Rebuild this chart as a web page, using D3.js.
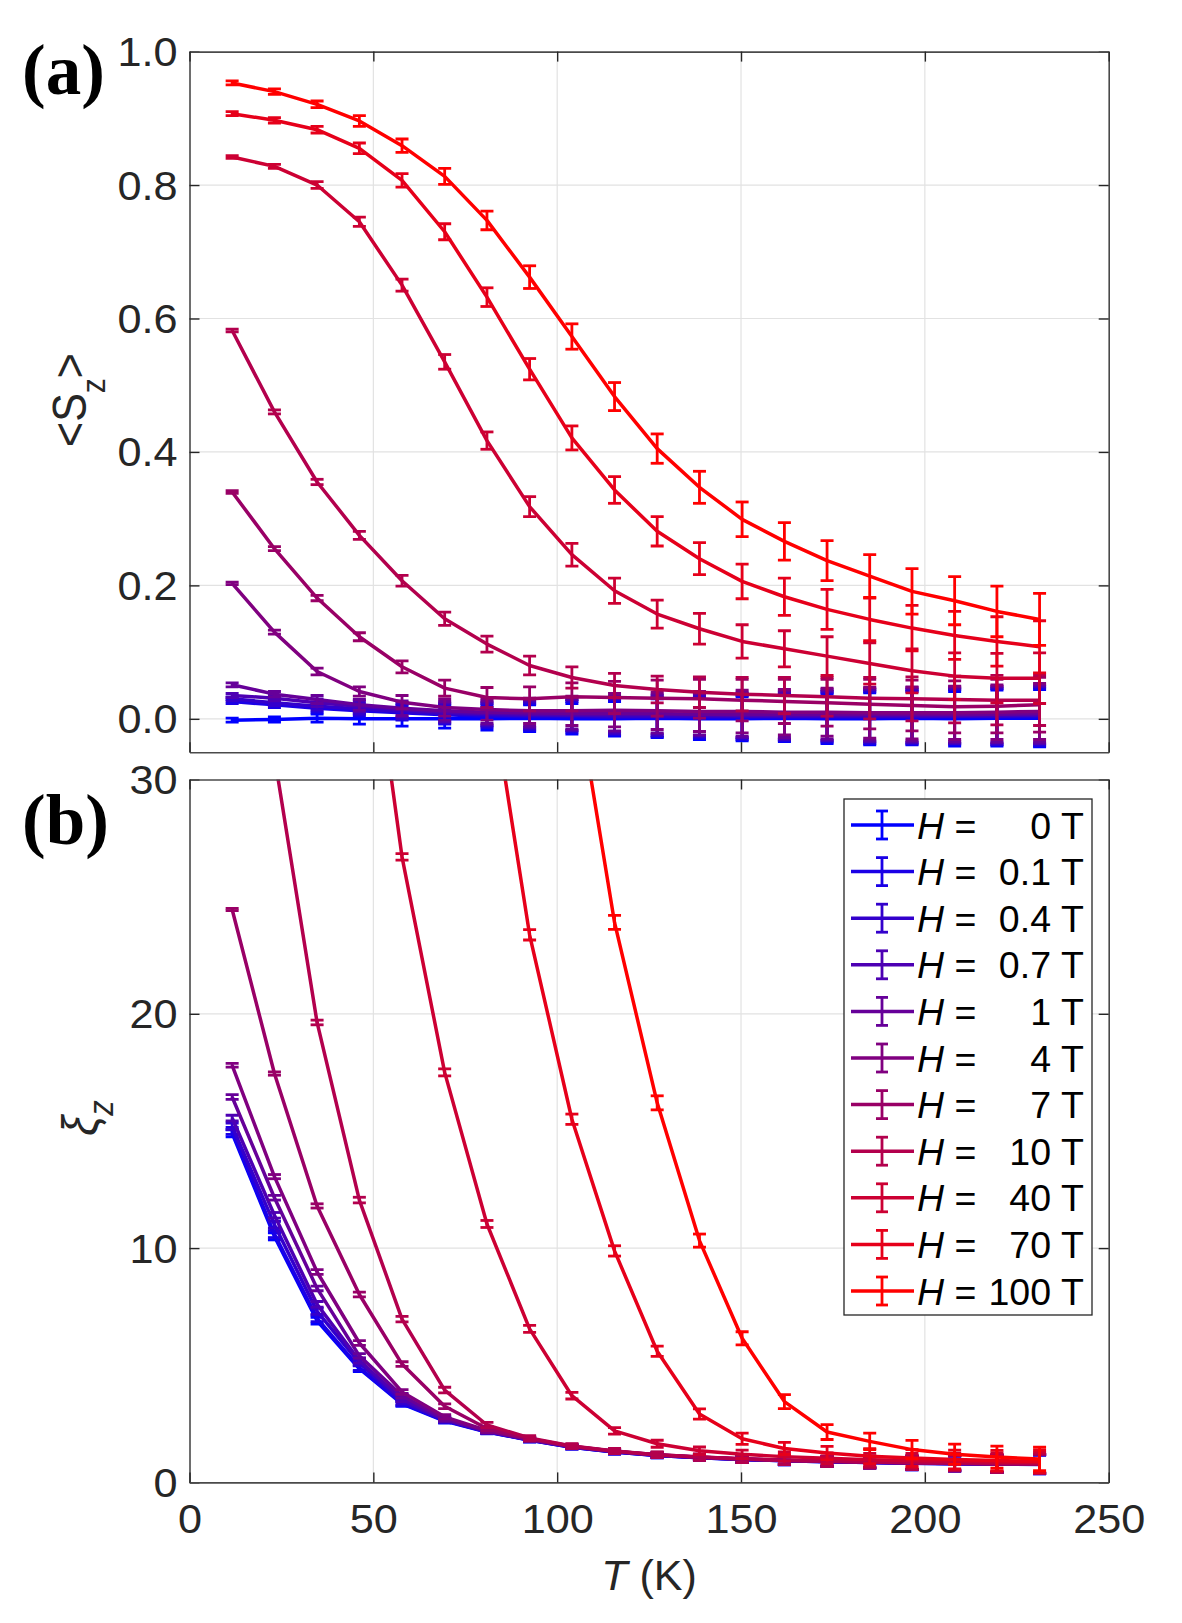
<!DOCTYPE html>
<html><head><meta charset="utf-8">
<script src="https://cdn.jsdelivr.net/npm/d3@7"></script>
<style>body{margin:0;background:#fff} svg{display:block}</style>
</head><body><svg id="c" width="1182" height="1623"></svg>
<script>
// ---------- DATA ----------
const fields = ["0", "0.1", "0.4", "0.7", "1", "4", "7", "10", "40", "70", "100"];
const temps = [11.6, 23.1, 34.7, 46.2, 57.8, 69.4, 80.9, 92.5, 104.0, 115.6, 127.2, 138.7, 150.3, 161.8, 173.4, 185.0, 196.5, 208.1, 219.6, 231.2];

// <S_z> per field (rows follow `fields`)
const szValues = [
  [-0.002, -0.001, 0.001, 0.000, 0.000, 0.000, 0.000, 0.001, 0.000, 0.000, 0.001, 0.000, 0.000, 0.001, 0.000, 0.000, 0.001, 0.000, 0.001, 0.001],
  [0.026, 0.021, 0.016, 0.012, 0.009, 0.006, 0.004, 0.003, 0.003, 0.002, 0.002, 0.002, 0.002, 0.002, 0.002, 0.002, 0.002, 0.003, 0.003, 0.003],
  [0.030, 0.024, 0.019, 0.015, 0.011, 0.008, 0.006, 0.005, 0.005, 0.004, 0.004, 0.004, 0.004, 0.004, 0.004, 0.004, 0.004, 0.004, 0.004, 0.005],
  [0.035, 0.031, 0.024, 0.019, 0.014, 0.010, 0.008, 0.007, 0.006, 0.006, 0.006, 0.006, 0.005, 0.005, 0.005, 0.005, 0.005, 0.005, 0.006, 0.006],
  [0.051, 0.037, 0.029, 0.021, 0.016, 0.012, 0.010, 0.009, 0.008, 0.008, 0.008, 0.007, 0.007, 0.007, 0.007, 0.007, 0.007, 0.007, 0.007, 0.008],
  [0.203, 0.130, 0.071, 0.041, 0.025, 0.017, 0.014, 0.012, 0.012, 0.013, 0.012, 0.011, 0.011, 0.010, 0.010, 0.009, 0.009, 0.009, 0.010, 0.011],
  [0.340, 0.255, 0.181, 0.123, 0.078, 0.046, 0.032, 0.030, 0.033, 0.032, 0.031, 0.030, 0.028, 0.026, 0.024, 0.022, 0.020, 0.018, 0.019, 0.021],
  [0.582, 0.460, 0.355, 0.275, 0.207, 0.150, 0.112, 0.080, 0.062, 0.050, 0.044, 0.040, 0.037, 0.035, 0.033, 0.031, 0.030, 0.029, 0.028, 0.028],
  [0.842, 0.828, 0.800, 0.745, 0.650, 0.535, 0.417, 0.318, 0.246, 0.192, 0.157, 0.135, 0.116, 0.105, 0.094, 0.083, 0.072, 0.064, 0.061, 0.061],
  [0.907, 0.897, 0.883, 0.855, 0.807, 0.730, 0.632, 0.524, 0.421, 0.343, 0.281, 0.240, 0.206, 0.183, 0.164, 0.149, 0.136, 0.125, 0.116, 0.108],
  [0.953, 0.940, 0.921, 0.896, 0.859, 0.813, 0.747, 0.662, 0.573, 0.483, 0.405, 0.347, 0.299, 0.266, 0.237, 0.214, 0.191, 0.177, 0.161, 0.149]
];
const szErrors = [
  [0.003, 0.004, 0.006, 0.008, 0.011, 0.014, 0.017, 0.020, 0.023, 0.026, 0.029, 0.031, 0.033, 0.035, 0.037, 0.039, 0.040, 0.041, 0.042, 0.043],
  [0.003, 0.004, 0.006, 0.008, 0.011, 0.014, 0.017, 0.020, 0.023, 0.026, 0.029, 0.031, 0.033, 0.035, 0.037, 0.039, 0.040, 0.041, 0.042, 0.043],
  [0.003, 0.004, 0.006, 0.008, 0.011, 0.014, 0.017, 0.020, 0.023, 0.026, 0.029, 0.031, 0.033, 0.035, 0.037, 0.039, 0.040, 0.041, 0.042, 0.043],
  [0.003, 0.004, 0.006, 0.008, 0.011, 0.014, 0.017, 0.020, 0.023, 0.026, 0.029, 0.031, 0.033, 0.035, 0.037, 0.039, 0.040, 0.041, 0.042, 0.043],
  [0.003, 0.004, 0.006, 0.008, 0.011, 0.014, 0.017, 0.020, 0.023, 0.026, 0.029, 0.031, 0.033, 0.035, 0.037, 0.039, 0.040, 0.041, 0.042, 0.043],
  [0.002, 0.003, 0.005, 0.007, 0.010, 0.013, 0.016, 0.019, 0.022, 0.025, 0.028, 0.030, 0.032, 0.034, 0.036, 0.038, 0.039, 0.040, 0.041, 0.042],
  [0.002, 0.003, 0.004, 0.006, 0.009, 0.012, 0.015, 0.018, 0.021, 0.024, 0.027, 0.029, 0.031, 0.033, 0.035, 0.037, 0.038, 0.039, 0.040, 0.041],
  [0.002, 0.003, 0.004, 0.006, 0.008, 0.010, 0.012, 0.014, 0.016, 0.018, 0.020, 0.023, 0.025, 0.027, 0.029, 0.031, 0.033, 0.035, 0.037, 0.038],
  [0.002, 0.003, 0.005, 0.007, 0.009, 0.011, 0.013, 0.015, 0.017, 0.019, 0.021, 0.023, 0.025, 0.027, 0.029, 0.031, 0.033, 0.035, 0.037, 0.038],
  [0.003, 0.004, 0.005, 0.008, 0.010, 0.012, 0.014, 0.016, 0.018, 0.020, 0.022, 0.024, 0.026, 0.028, 0.030, 0.032, 0.034, 0.036, 0.037, 0.039],
  [0.003, 0.004, 0.005, 0.008, 0.010, 0.012, 0.014, 0.017, 0.019, 0.021, 0.022, 0.024, 0.026, 0.028, 0.030, 0.032, 0.034, 0.036, 0.038, 0.039]
];

// xi_z per field (rows follow `fields`)
const xiValues = [
  [14.9, 10.5, 6.9, 4.85, 3.35, 2.62, 2.15, 1.80, 1.50, 1.30, 1.15, 1.05, 0.98, 0.92, 0.88, 0.85, 0.82, 0.80, 0.78, 0.76],
  [15.0, 10.6, 7.0, 4.90, 3.38, 2.64, 2.16, 1.81, 1.50, 1.30, 1.15, 1.05, 0.98, 0.92, 0.88, 0.85, 0.82, 0.80, 0.78, 0.77],
  [15.2, 11.0, 7.3, 5.10, 3.45, 2.66, 2.17, 1.82, 1.51, 1.31, 1.16, 1.06, 0.99, 0.93, 0.89, 0.86, 0.83, 0.81, 0.79, 0.78],
  [15.55, 11.4, 7.6, 5.20, 3.55, 2.68, 2.18, 1.82, 1.52, 1.32, 1.16, 1.06, 0.99, 0.93, 0.89, 0.86, 0.83, 0.81, 0.79, 0.78],
  [16.45, 12.15, 8.28, 5.40, 3.70, 2.72, 2.20, 1.83, 1.52, 1.32, 1.17, 1.07, 1.00, 0.94, 0.90, 0.86, 0.84, 0.82, 0.80, 0.79],
  [17.8, 13.05, 8.98, 5.95, 3.86, 2.80, 2.22, 1.84, 1.53, 1.33, 1.17, 1.07, 1.00, 0.94, 0.90, 0.87, 0.84, 0.82, 0.80, 0.79],
  [24.45, 17.45, 11.8, 8.02, 5.05, 3.25, 2.30, 1.86, 1.54, 1.33, 1.18, 1.08, 1.00, 0.95, 0.90, 0.87, 0.84, 0.82, 0.80, 0.79],
  [42.0, 31.0, 19.63, 12.05, 6.97, 3.94, 2.45, 1.90, 1.55, 1.34, 1.18, 1.08, 1.01, 0.95, 0.91, 0.87, 0.85, 0.83, 0.81, 0.80],
  [70.0, 55.0, 48.0, 40.0, 26.7, 17.5, 11.03, 6.55, 3.70, 2.20, 1.65, 1.35, 1.20, 1.10, 1.03, 0.97, 0.93, 0.90, 0.87, 0.85],
  [80.0, 70.0, 60.0, 55.0, 48.0, 42.0, 35.0, 23.37, 15.5, 9.88, 5.60, 2.92, 1.86, 1.45, 1.25, 1.12, 1.04, 0.98, 0.93, 0.90],
  [90.0, 85.0, 80.0, 72.0, 65.0, 57.0, 50.0, 45.0, 35.0, 23.9, 16.2, 10.32, 6.15, 3.45, 2.15, 1.75, 1.40, 1.20, 1.08, 1.00]
];
const xiErrors = [
  [0.15, 0.15, 0.14, 0.12, 0.10, 0.09, 0.08, 0.08, 0.08, 0.09, 0.10, 0.12, 0.14, 0.17, 0.20, 0.24, 0.28, 0.32, 0.36, 0.40],
  [0.15, 0.15, 0.14, 0.12, 0.10, 0.09, 0.08, 0.08, 0.08, 0.09, 0.10, 0.12, 0.14, 0.17, 0.20, 0.24, 0.28, 0.32, 0.36, 0.40],
  [0.14, 0.14, 0.13, 0.12, 0.10, 0.09, 0.08, 0.08, 0.08, 0.09, 0.10, 0.12, 0.14, 0.17, 0.20, 0.24, 0.28, 0.32, 0.36, 0.40],
  [0.12, 0.12, 0.12, 0.11, 0.10, 0.09, 0.08, 0.08, 0.08, 0.09, 0.10, 0.12, 0.14, 0.17, 0.20, 0.24, 0.28, 0.32, 0.36, 0.40],
  [0.10, 0.10, 0.10, 0.10, 0.10, 0.09, 0.08, 0.08, 0.08, 0.09, 0.10, 0.12, 0.14, 0.17, 0.20, 0.24, 0.28, 0.32, 0.36, 0.40],
  [0.08, 0.09, 0.10, 0.10, 0.10, 0.09, 0.08, 0.08, 0.08, 0.09, 0.10, 0.12, 0.14, 0.17, 0.20, 0.24, 0.28, 0.32, 0.36, 0.40],
  [0.05, 0.07, 0.09, 0.10, 0.10, 0.10, 0.09, 0.09, 0.09, 0.10, 0.11, 0.13, 0.15, 0.18, 0.21, 0.25, 0.29, 0.33, 0.37, 0.41],
  [0.10, 0.10, 0.10, 0.12, 0.12, 0.12, 0.11, 0.10, 0.10, 0.11, 0.12, 0.14, 0.16, 0.19, 0.22, 0.26, 0.30, 0.34, 0.38, 0.42],
  [0.15, 0.15, 0.15, 0.15, 0.14, 0.15, 0.15, 0.15, 0.14, 0.14, 0.15, 0.16, 0.18, 0.20, 0.23, 0.27, 0.31, 0.35, 0.39, 0.43],
  [0.20, 0.20, 0.20, 0.20, 0.20, 0.20, 0.22, 0.22, 0.22, 0.22, 0.22, 0.22, 0.24, 0.26, 0.29, 0.32, 0.36, 0.40, 0.44, 0.48],
  [0.30, 0.30, 0.30, 0.30, 0.30, 0.30, 0.30, 0.30, 0.30, 0.30, 0.30, 0.28, 0.28, 0.30, 0.32, 0.35, 0.39, 0.43, 0.47, 0.50]
];

const szTicks = [0, 0.2, 0.4, 0.6, 0.8, 1.0];
const xiTicks = [0, 10, 20, 30];
const tTicks = [0, 50, 100, 150, 200, 250];

// ---------- DRAWING ----------
const svg = d3.select("#c");
const FONT = "'Liberation Sans', Arial, Helvetica, sans-serif";
const AX = "#262626";
const L = 189.5, R = 1108.7;
const x = d3.scaleLinear().domain([0, 250]).range([L, R]);
const ya = d3.scaleLinear().domain([-0.05, 1]).range([752.2, 51.6]);
const yb = d3.scaleLinear().domain([0, 30]).range([1482.4, 779.5]);
const color = i => d3.interpolateRgb("#0000ff", "#ff0000")(i / (fields.length - 1));
const TICK_FS = 40, SX = 1.08;

function panel(id, y, values, errors, yTicks, yFmt, showX) {
  const [y0, y1] = y.range();
  const g = svg.append("g");
  svg.append("clipPath").attr("id", "clip" + id)
    .append("rect").attr("x", L).attr("y", y1).attr("width", R - L).attr("height", y0 - y1);
  // grid
  g.append("g").selectAll("line").data(tTicks.filter(t => t > 0 && t < 250)).join("line")
    .attr("x1", d => x(d)).attr("x2", d => x(d)).attr("y1", y0).attr("y2", y1)
    .attr("stroke", "#e2e2e2").attr("stroke-width", 1.2);
  g.append("g").selectAll("line").data(yTicks.filter(v => y(v) < y0 - 1 && y(v) > y1 + 1)).join("line")
    .attr("x1", L).attr("x2", R).attr("y1", d => y(d)).attr("y2", d => y(d))
    .attr("stroke", "#e2e2e2").attr("stroke-width", 1.2);

  // series (0 T drawn first, 100 T last)
  const data = g.append("g").attr("clip-path", `url(#clip${id})`);
  const line = d3.line().x(d => x(d[0])).y(d => y(d[1]));
  values.forEach((vals, i) => {
    const c = color(i);
    const pts = temps.map((t, j) => [t, vals[j], errors[i][j]]);
    const sg = data.append("g");
    sg.append("path").datum(pts).attr("d", line).attr("fill", "none")
      .attr("stroke", c).attr("stroke-width", 3.5).attr("stroke-linejoin", "round");
    const eb = sg.selectAll("g.eb").data(pts).join("g").attr("stroke", c).attr("stroke-width", 2.8);
    eb.append("line").attr("x1", d => x(d[0])).attr("x2", d => x(d[0]))
      .attr("y1", d => y(d[1] - d[2])).attr("y2", d => y(d[1] + d[2]));
    eb.append("line").attr("x1", d => x(d[0]) - 6.5).attr("x2", d => x(d[0]) + 6.5)
      .attr("y1", d => y(d[1] - d[2])).attr("y2", d => y(d[1] - d[2]));
    eb.append("line").attr("x1", d => x(d[0]) - 6.5).attr("x2", d => x(d[0]) + 6.5)
      .attr("y1", d => y(d[1] + d[2])).attr("y2", d => y(d[1] + d[2]));
  });

  // axes (inward ticks, full box)
  const styleAxis = sel => {
    sel.selectAll("path.domain").attr("stroke", "#4a4a4a").attr("stroke-width", 1.6);
    sel.selectAll(".tick line").attr("stroke", AX).attr("stroke-width", 1.4);
    sel.selectAll("text").attr("fill", AX).attr("font-family", FONT).attr("font-size", TICK_FS)
      .attr("transform", `scale(${SX},1)`);
  };
  const left = g.append("g").attr("transform", `translate(${L},0)`)
    .call(d3.axisLeft(y).tickValues(yTicks).tickFormat(yFmt).tickSizeInner(-10).tickSizeOuter(0).tickPadding(11))
    .call(styleAxis);
  left.selectAll(".tick text").attr("dy", "0.35em");
  g.append("g").attr("transform", `translate(${R},0)`)
    .call(d3.axisRight(y).tickValues(yTicks).tickFormat("").tickSizeInner(-10).tickSizeOuter(0))
    .call(styleAxis);
  g.append("g").attr("transform", `translate(0,${y1})`)
    .call(d3.axisTop(x).tickValues(tTicks).tickFormat("").tickSizeInner(-10).tickSizeOuter(0))
    .call(styleAxis);
  const bottom = g.append("g").attr("transform", `translate(0,${y0})`)
    .call(d3.axisBottom(x).tickValues(tTicks).tickFormat(showX ? d3.format("d") : "").tickSizeInner(-10).tickSizeOuter(0).tickPadding(22))
    .call(styleAxis);
  bottom.selectAll(".tick text").attr("dy", "0.72em");
  return g;
}

panel("a", ya, szValues, szErrors, szTicks, d3.format(".1f"), false);
panel("b", yb, xiValues, xiErrors, xiTicks, d3.format("d"), true);

// panel labels
const serif = "'Liberation Serif', 'Times New Roman', serif";
svg.append("text").attr("x", 22).attr("y", 94).text("(a)")
  .attr("font-family", serif).attr("font-weight", "bold").attr("font-size", 71).attr("fill", "#000");
svg.append("text").attr("x", 22).attr("y", 844).text("(b)")
  .attr("font-family", serif).attr("font-weight", "bold").attr("font-size", 71).attr("fill", "#000");

// axis labels
const yla = svg.append("text").attr("transform", "translate(86,400) scale(1.12,1) rotate(-90)")
  .attr("text-anchor", "middle").attr("font-family", FONT).attr("font-size", 43).attr("fill", AX);
yla.append("tspan").text("<S");
yla.append("tspan").text("z").attr("font-size", 30).attr("dy", 17);
yla.append("tspan").text(">").attr("dy", -17);

const ylb = svg.append("text").attr("transform", "translate(97,1118) scale(1.12,1) rotate(-90)")
  .attr("text-anchor", "middle").attr("font-family", FONT).attr("font-size", 45).attr("fill", AX);
ylb.append("tspan").text("ξ").attr("font-style", "italic");
ylb.append("tspan").text("z").attr("font-style", "italic").attr("font-size", 31).attr("dy", 14);

const xl = svg.append("text").attr("x", 649).attr("y", 1590).attr("text-anchor", "middle")
  .attr("font-family", FONT).attr("font-size", 43).attr("fill", AX);
xl.append("tspan").text("T").attr("font-style", "italic");
xl.append("tspan").text(" (K)");

// legend
const lg = svg.append("g");
const LX0 = 844, LY0 = 799, LX1 = 1092, LY1 = 1315;
lg.append("rect").attr("x", LX0).attr("y", LY0).attr("width", LX1 - LX0).attr("height", LY1 - LY0)
  .attr("fill", "#fff").attr("stroke", AX).attr("stroke-width", 1.3);
const rowH = 46.6, row0 = 825;
const LFS = 37.5;
fields.forEach((f, i) => {
  const cy = row0 + rowH * i;
  const c = color(i);
  const r = lg.append("g");
  r.append("line").attr("x1", 851).attr("x2", 914).attr("y1", cy).attr("y2", cy).attr("stroke", c).attr("stroke-width", 3.5);
  r.append("line").attr("x1", 882).attr("x2", 882).attr("y1", cy - 14).attr("y2", cy + 14).attr("stroke", c).attr("stroke-width", 2.8);
  r.append("line").attr("x1", 876).attr("x2", 888).attr("y1", cy - 14).attr("y2", cy - 14).attr("stroke", c).attr("stroke-width", 2.8);
  r.append("line").attr("x1", 876).attr("x2", 888).attr("y1", cy + 14).attr("y2", cy + 14).attr("stroke", c).attr("stroke-width", 2.8);
  const mk = (tx, anchor) => r.append("text")
    .attr("x", tx).attr("y", cy + 13.5)
    .attr("text-anchor", anchor).attr("font-family", FONT).attr("font-size", LFS).attr("fill", "#000");
  const t1 = mk(917, "start");
  t1.append("tspan").text("H").attr("font-style", "italic");
  t1.append("tspan").text(" =");
  mk(1051, "end").text(f);
  mk(1061, "start").text("T");
});
</script>
</body></html>
